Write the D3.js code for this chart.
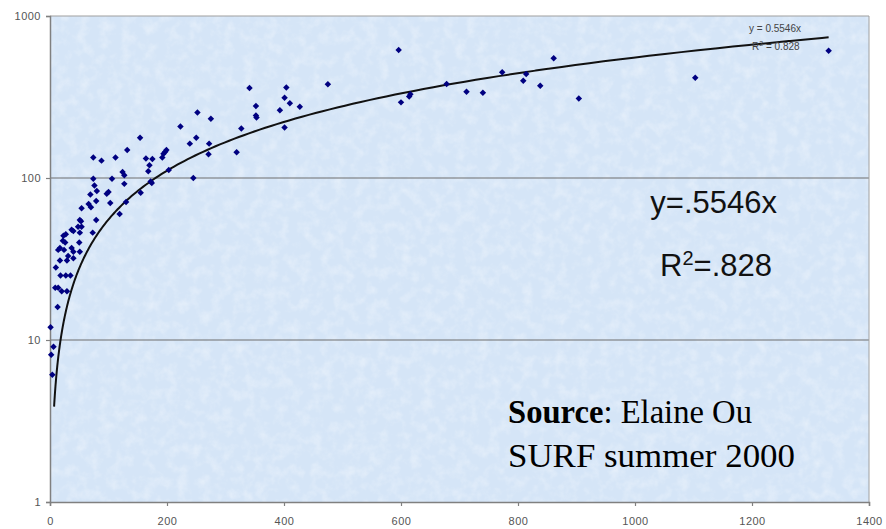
<!DOCTYPE html>
<html>
<head>
<meta charset="utf-8">
<script src="https://cdn.jsdelivr.net/npm/d3@7"></script>
<style>
  html, body { margin: 0; padding: 0; background: #fff; }
  svg { display: block; }
</style>
</head>
<body>
<div id="chart"></div>
<script>
// values (x, y pairs)
var pointX = [1331, 1103, 904, 861, 838, 814, 809, 773, 740, 712, 678, 616, 614, 600, 596,
  475, 427, 410, 404, 401, 401, 393, 352, 352, 353, 341, 327, 319, 275, 272, 271, 252, 250,
  239, 223, 245, 203, 199, 197, 194, 192, 174, 172, 175, 164, 170, 168, 154, 155, 132, 127,
  124, 127, 112, 106, 88, 74, 74, 76, 80, 69, 97, 100, 119, 130, 103, 79, 66, 70, 54, 79,
  51, 53, 48, 37, 40, 54, 51, 27, 23, 26, 22, 73, 50, 37, 40, 51, 14, 24, 17, 31, 40, 29,
  17, 10, 18, 27, 35, 9, 14, 20, 29, 13, 1, 6, 2, 4];
var pointY = [611, 416, 310, 548, 371, 439, 399, 449, 336, 341, 380, 329, 318, 293, 617,
  379, 275, 289, 362, 313, 205, 262, 278, 243, 236, 359, 202, 144, 232, 163, 140, 254, 177,
  163, 208, 100, 112, 149, 145, 141, 134, 93, 95, 131, 132, 120, 110, 177, 81, 149, 104,
  109, 92, 134, 99, 128, 134, 99, 90, 83, 79, 80, 82, 60, 71, 70, 72, 69, 66, 65, 55,
  55, 54, 50, 48, 47, 50, 46, 45, 44, 40, 41, 46, 40, 37, 35, 35, 36, 36, 37, 33, 32, 31,
  31, 28, 25, 25, 25, 21, 21, 20, 20, 16, 12, 9.1, 8.1, 6.1];

var xTicks = [0, 200, 400, 600, 800, 1000, 1200, 1400];
var yTicks = [1, 10, 100, 1000];
var slope = 0.5546;
var rSquared = ".828";
var trendRange = [7, 1331];

var width = 886, height = 529;
var plotLeft = 50, plotRight = 869, plotTop = 16, plotBottom = 502;

var x = d3.scaleLinear().domain([0, 1400]).range([plotLeft, plotRight]);
var y = d3.scaleLog().domain([1, 1000]).range([plotBottom, plotTop]);

var svg = d3.select("#chart").append("svg")
  .attr("width", width)
  .attr("height", height)
  .attr("font-family", "'Liberation Sans', Arial, sans-serif");

// paper-like texture for the plot area
var defs = svg.append("defs");
var filt = defs.append("filter").attr("id", "tissue")
  .attr("x", 0).attr("y", 0).attr("width", "100%").attr("height", "100%");
filt.append("feTurbulence").attr("type", "fractalNoise")
  .attr("baseFrequency", 0.09).attr("numOctaves", 3).attr("seed", 4).attr("result", "noise");
filt.append("feColorMatrix").attr("in", "noise").attr("type", "matrix")
  .attr("values", "0 0 0 0 1  0 0 0 0 1  0 0 0 0 1  0 0 0 1.3 -0.55");

svg.append("rect")
  .attr("x", plotLeft).attr("y", plotTop)
  .attr("width", plotRight - plotLeft).attr("height", plotBottom - plotTop)
  .attr("fill", "#d5e5f7");
svg.append("rect")
  .attr("x", plotLeft).attr("y", plotTop)
  .attr("width", plotRight - plotLeft).attr("height", plotBottom - plotTop)
  .attr("filter", "url(#tissue)")
  .attr("opacity", 0.55);

// gridlines
svg.append("g")
  .selectAll("line")
  .data(yTicks.slice(1))
  .join("line")
    .attr("x1", plotLeft).attr("x2", plotRight)
    .attr("y1", d => y(d)).attr("y2", d => y(d))
    .attr("stroke", d => d === 1000 ? "#a0a0a0" : "#6e6e6e")
    .attr("stroke-width", 1.2);

// right border
svg.append("line")
  .attr("x1", plotRight).attr("x2", plotRight).attr("y1", plotTop).attr("y2", plotBottom)
  .attr("stroke", "#a0a0a0").attr("stroke-width", 1);

// axes
var xAxis = d3.axisBottom(x).tickValues(xTicks).tickSize(4).tickFormat(d3.format("d"));
var yAxis = d3.axisLeft(y).tickValues(yTicks).tickSize(4).tickFormat(d3.format("d"));

var gx = svg.append("g").attr("transform", `translate(0,${plotBottom})`).call(xAxis);
var gy = svg.append("g").attr("transform", `translate(${plotLeft},0)`).call(yAxis);

[gx, gy].forEach(g => {
  g.select(".domain").attr("stroke", "#808080").attr("stroke-width", 1.5);
  g.selectAll(".tick line").attr("stroke", "#808080").attr("stroke-width", 1.2);
  g.selectAll(".tick text")
    .attr("fill", "#555")
    .attr("font-size", 11)
    .attr("letter-spacing", "0.5px")
    .attr("font-family", "'Liberation Sans', Arial, sans-serif");
});
gx.selectAll(".tick text").attr("dy", "1.45em");
gy.selectAll(".tick text").attr("x", -9);

// trend line y = 0.5546x
var trendX = d3.range(0, 201).map(i => trendRange[0] * Math.pow(trendRange[1] / trendRange[0], i / 200));
var line = d3.line().x(d => x(d)).y(d => y(slope * d)).curve(d3.curveMonotoneX);
svg.append("path")
  .datum(trendX)
  .attr("fill", "none")
  .attr("stroke", "#111")
  .attr("stroke-width", 2)
  .attr("d", line);

// points
var diamond = d3.symbol().type(d3.symbolSquare).size(21);
svg.append("g")
  .selectAll("path")
  .data(d3.range(pointX.length))
  .join("path")
    .attr("transform", i => `translate(${x(pointX[i])},${y(pointY[i])}) rotate(45)`)
    .attr("d", diamond)
    .attr("fill", "#000080");

// small Excel trendline label
var small = svg.append("g").attr("fill", "#444").attr("font-size", 10);
small.append("text").attr("x", 749).attr("y", 32).text("y = 0.5546x");
var smallR = small.append("text").attr("x", 752).attr("y", 50);
smallR.append("tspan").text("R");
smallR.append("tspan").attr("dy", -4).attr("font-size", 7).text("2");
smallR.append("tspan").attr("dy", 4).text(" = 0.828");

// large annotations
svg.append("text")
  .attr("x", 777).attr("y", 213)
  .attr("text-anchor", "end")
  .attr("font-size", 31)
  .attr("fill", "#111")
  .text("y=.5546x");

var r2 = svg.append("text")
  .attr("x", 772).attr("y", 276)
  .attr("text-anchor", "end")
  .attr("font-size", 31)
  .attr("fill", "#111");
r2.append("tspan").text("R");
r2.append("tspan").attr("dy", -11).attr("font-size", 20).text("2");
r2.append("tspan").attr("dy", 11).text("=" + rSquared);

var src = svg.append("g")
  .attr("font-family", "'Liberation Serif', 'Times New Roman', serif")
  .attr("font-size", 34.5)
  .attr("fill", "#000");
var s1 = src.append("text").attr("x", 508).attr("y", 423)
  .attr("textLength", 244).attr("lengthAdjust", "spacingAndGlyphs");
s1.append("tspan").attr("font-weight", "bold").text("Source");
s1.append("tspan").text(": Elaine Ou");
src.append("text").attr("x", 508).attr("y", 467)
  .attr("textLength", 287).attr("lengthAdjust", "spacingAndGlyphs")
  .text("SURF summer 2000");
</script>
</body>
</html>
